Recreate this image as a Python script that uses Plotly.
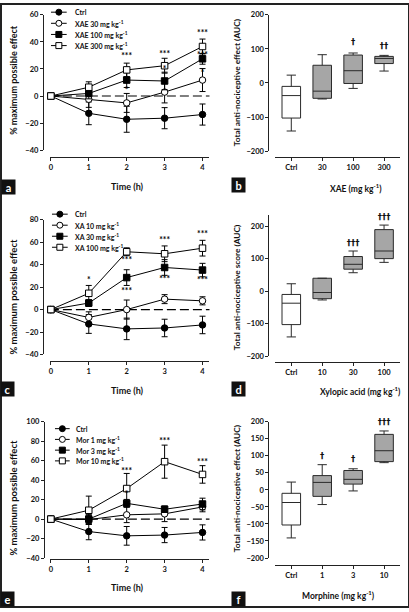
import plotly.graph_objects as go

W, H = 409, 612

# ---------------- data ----------------
time = [0, 1, 2, 3, 4]

ctrl_mean = [0, -12.8, -17.2, -16.4, -13.7]
ctrl_err = [0, 8.4, 9.6, 7.8, 7.8]

xae30_mean = [0, -2.4, -5.1, 2.9, 11.8]
xae30_err = [0, 6, 7, 8, 8.5]
xae100_mean = [0, 1.9, 11.8, 11.1, 27.5]
xae100_err = [0, 4, 5.5, 6.5, 4]
xae300_mean = [0, 6.5, 19.3, 22.4, 36.6]
xae300_err = [0, 4, 5, 5.5, 5.5]

xa10_mean = [0, -7.0, 0.0, 9.3, 7.8]
xa10_err = [0, 5, 8.5, 4, 3.6]
xa30_mean = [0, 5.8, 28.5, 37.5, 35.2]
xa30_err = [0, 3, 7, 7, 6]
xa100_mean = [0, 14.5, 51.5, 49.7, 54.7]
xa100_err = [0, 7, 3.5, 7, 7]

mor1_mean = [0, -0.5, 4.4, 5.4, 12.5]
mor1_err = [0, 5, 8, 8, 5]
mor3_mean = [0, 0.0, 16.2, 10.1, 15.5]
mor3_err = [0, 4, 4, 3, 6]
mor10_mean = [0, 9.1, 31.4, 59.0, 45.9]
mor10_err = [0, 14.5, 15.5, 17, 9]

names_a = ["Ctrl", "XAE 30 mg kg<sup>-1</sup>", "XAE 100 mg kg<sup>-1</sup>", "XAE 300 mg kg<sup>-1</sup>"]
names_c = ["Ctrl", "XA 10 mg kg<sup>-1</sup>", "XA 30 mg kg<sup>-1</sup>", "XA 100 mg kg<sup>-1</sup>"]
names_e = ["Ctrl", "Mor 1 mg kg<sup>-1</sup>", "Mor 3 mg kg<sup>-1</sup>", "Mor 10 mg kg<sup>-1</sup>"]

stars_a_x = [2, 2, 3, 3, 4, 4, 4]
stars_a_y = [28.9, 3.6, 30.6, 19.3, 45.8, 30.0, 16.1]
stars_a_t = ["***", "*", "***", "*", "***", "***", "*"]

stars_c_x = [1, 2, 2, 3, 3, 4, 4]
stars_c_y = [25.3, 43.6, 16.0, 61.0, 26.2, 66.3, 25.3]
stars_c_t = ["*", "***", "***", "***", "***", "***", "***"]

stars_e_x = [2, 2, 3, 4]
stars_e_y = [48.2, 24.6, 79.3, 57.3]
stars_e_t = ["***", "*", "***", "***"]

cats_b = ["Ctrl", "30", "100", "300"]
low_b = [-141, -47, -16, 35]
q1_b = [-103, -45, -1.5, 57]
med_b = [-37, -24, 36, 72]
q3_b = [-10, 52, 82, 78]
high_b = [23, 83, 88, 81]
dag_b_x = [2, 3]
dag_b_y = [117, 105.5]
dag_b_t = ["†", "††"]

cats_d = ["Ctrl", "10", "30", "100"]
low_d = [-141, -27, 57, 89]
q1_d = [-103, -23, 68, 100.5]
med_d = [-37, -4, 83, 124]
q3_d = [-10, 40, 107, 190]
high_d = [23, 40, 124, 204]
dag_d_x = [2, 3]
dag_d_y = [145, 226]
dag_d_t = ["†††", "†††"]

cats_f = ["Ctrl", "1", "3", "10"]
low_f = [-141, -43, -3, 80]
q1_f = [-103, -19, 17, 83]
med_f = [-37, 22, 31, 115]
q3_f = [-10, 42, 57, 163]
high_f = [23, 74, 62, 173]
dag_f_x = [1, 2, 3]
dag_f_y = [98, 88, 197]
dag_f_t = ["†", "†", "†††"]

# ---------------- style ----------------
FONT = "Lato"
AX = "#222222"
GREY = "#a6a6a6"
symbols = ["circle", "circle", "square", "square"]
fills = ["black", "white", "black", "white"]


def px(x):
    return x / W


def py(y):
    return 1 - y / H


fig = go.Figure()
layout = {}
TICKFONT = dict(family=FONT, size=7.5, color="#111", weight="bold")


def line_axes(n, xline_y, yline_x, ytop, ybot, yrange, ydtick):
    xs = "xaxis" if n == 1 else f"xaxis{n}"
    ys = "yaxis" if n == 1 else f"yaxis{n}"
    x0px, x1px = 49, 209
    ppu = (202 - 50) / 4.0
    layout[xs] = dict(domain=[px(x0px), px(x1px)], range=[-(50 - x0px) / ppu, 4 + (x1px - 202) / ppu],
                      anchor="free", position=py(xline_y), showline=True, linecolor=AX, linewidth=1,
                      ticks="outside", ticklen=3, tickcolor=AX, tickvals=time, showgrid=False,
                      zeroline=False, tickfont=TICKFONT)
    layout[ys] = dict(domain=[py(ybot), py(ytop)], range=yrange, anchor="free", position=px(yline_x),
                      showline=True, linecolor=AX, linewidth=1, ticks="outside", ticklen=3, tickcolor=AX,
                      dtick=ydtick, tick0=0, showgrid=False, zeroline=False, tickfont=TICKFONT)


def box_axes(n, xline_y, ytop, ybot, yrange, cats, ydtick):
    xs = f"xaxis{n}"
    ys = f"yaxis{n}"
    ppu = 31.0
    layout[xs] = dict(domain=[px(275), px(400)], range=[-(291 - 275) / ppu, 3 + (400 - 384) / ppu],
                      anchor="free", position=py(xline_y), showline=True, linecolor=AX, linewidth=1,
                      ticks="outside", ticklen=3, tickcolor=AX, tickvals=list(range(len(cats))),
                      ticktext=cats, showgrid=False, zeroline=False, tickfont=TICKFONT)
    layout[ys] = dict(domain=[py(ybot), py(ytop)], range=yrange, anchor="free", position=px(268),
                      showline=True, linecolor=AX, linewidth=1, ticks="outside", ticklen=3, tickcolor=AX,
                      tickvals=list(range(-200, 201, ydtick)), showgrid=False, zeroline=False,
                      tickfont=TICKFONT)


line_axes(1, 155, 42, 11, 148.3, [-40, 60], 20)
line_axes(3, 362.7, 42, 219, 355.7, [-40, 80], 20)
line_axes(5, 563.5, 43, 424, 562.3, [-40, 100], 20)
box_axes(2, 155, 11, 149.3, [-200, 200], cats_b, 100)
# panel d axis runs a little above 200 (200 at y=225.7, -200 at y=357.3)
d_ppu = (357.3 - 225.7) / 400.0
d_top_px = 214.0
box_axes(4, 363.3, d_top_px, 357.3, [-200, 200 + (225.7 - d_top_px) / d_ppu], cats_d, 100)
box_axes(6, 569.3, 424, 562.3, [-200, 200], cats_f, 50)


def add_lines(n, series, sx, sy, st):
    xa = "x" if n == 1 else f"x{n}"
    ya = "y" if n == 1 else f"y{n}"
    fig.add_shape(type="line", xref=f"{xa} domain", yref=ya, x0=0, x1=1, y0=0, y1=0,
                  line=dict(color="black", width=1.2, dash="9px,4px"), layer="below")
    for i, (mean, err) in enumerate(series):
        fig.add_trace(go.Scatter(
            x=time, y=mean, mode="lines+markers", xaxis=xa, yaxis=ya,
            line=dict(color="black", width=1),
            marker=dict(symbol=symbols[i], size=6.5, color=fills[i], line=dict(color="black", width=1)),
            error_y=dict(type="data", array=err, visible=True, color="black", thickness=1, width=3),
            showlegend=False, cliponaxis=False, hoverinfo="skip"))
    fig.add_trace(go.Scatter(x=sx, y=sy, text=st, mode="text", xaxis=xa, yaxis=ya,
                             textfont=dict(family=FONT, size=8.5, color="black", weight="bold"),
                             showlegend=False, cliponaxis=False, hoverinfo="skip"))


add_lines(1, [(ctrl_mean, ctrl_err), (xae30_mean, xae30_err), (xae100_mean, xae100_err),
              (xae300_mean, xae300_err)], stars_a_x, stars_a_y, stars_a_t)
add_lines(3, [(ctrl_mean, ctrl_err), (xa10_mean, xa10_err), (xa30_mean, xa30_err),
              (xa100_mean, xa100_err)], stars_c_x, stars_c_y, stars_c_t)
add_lines(5, [(ctrl_mean, ctrl_err), (mor1_mean, mor1_err), (mor3_mean, mor3_err),
              (mor10_mean, mor10_err)], stars_e_x, stars_e_y, stars_e_t)


def add_boxes(n, low, q1, med, q3, high, dx, dy, dt):
    xa, ya = f"x{n}", f"y{n}"
    idx = list(range(len(low)))
    for sel, fc in ((idx[:1], "white"), (idx[1:], GREY)):
        fig.add_trace(go.Box(
            x=sel, q1=[q1[i] for i in sel], median=[med[i] for i in sel], q3=[q3[i] for i in sel],
            lowerfence=[low[i] for i in sel], upperfence=[high[i] for i in sel],
            fillcolor=fc, line=dict(color="#2a2a2a", width=1), width=0.6, whiskerwidth=0.5,
            boxpoints=False, xaxis=xa, yaxis=ya, showlegend=False, hoverinfo="skip"))
    fig.add_trace(go.Scatter(x=dx, y=dy, text=dt, mode="text", xaxis=xa, yaxis=ya,
                             textfont=dict(family="DejaVu Sans", size=8.5, color="#111111", weight="bold"),
                             showlegend=False, cliponaxis=False, hoverinfo="skip"))


add_boxes(2, low_b, q1_b, med_b, q3_b, high_b, dag_b_x, dag_b_y, dag_b_t)
add_boxes(4, low_d, q1_d, med_d, q3_d, high_d, dag_d_x, dag_d_y, dag_d_t)
add_boxes(6, low_f, q1_f, med_f, q3_f, high_f, dag_f_x, dag_f_y, dag_f_t)

annotations = []


# ---------------- legends (key samples on small helper axes) ----------------
def add_legend(n, names, kx0, kx1, row0, step, textx):
    xs, ys = f"xaxis{n}", f"yaxis{n}"
    xa, ya = f"x{n}", f"y{n}"
    k = len(names)
    top = row0 - step / 2
    bot = row0 + step * (k - 0.5)
    layout[xs] = dict(domain=[px(kx0), px(kx1)], range=[0, 1], visible=False, fixedrange=True)
    layout[ys] = dict(domain=[py(bot), py(top)], range=[k - 0.5, -0.5], visible=False, fixedrange=True)
    for i, nm in enumerate(names):
        fig.add_trace(go.Scatter(x=[0, 1], y=[i, i], mode="lines", xaxis=xa, yaxis=ya,
                                 line=dict(color="black", width=1), showlegend=False,
                                 cliponaxis=False, hoverinfo="skip"))
        fig.add_trace(go.Scatter(x=[0.5], y=[i], mode="markers", xaxis=xa, yaxis=ya,
                                 marker=dict(symbol=symbols[i], size=6, color=fills[i],
                                             line=dict(color="black", width=1)),
                                 showlegend=False, cliponaxis=False, hoverinfo="skip"))
        annotations.append(dict(text=nm, xref="paper", yref="paper", x=px(textx), y=py(row0 + i * step),
                                xanchor="left", yanchor="middle", showarrow=False,
                                font=dict(family=FONT, size=7, color="#111", weight="bold")))


add_legend(7, names_a, 50, 66, 8.3, 11.3, 72)
add_legend(8, names_c, 51, 67, 213.3, 11.2, 72)
add_legend(9, names_e, 54, 69, 431.0, 10.9, 73)


# ---------------- titles ----------------
def ann(text, x, y, size, angle=0):
    annotations.append(dict(text=text, xref="paper", yref="paper", x=px(x), y=py(y), xanchor="center",
                            yanchor="middle", showarrow=False, textangle=angle,
                            font=dict(family=FONT, size=size, color="#111", weight="bold")))


ann("Time (h)", 127, 185, 9)
ann("Time (h)", 127, 392.7, 9)
ann("Time (h)", 127, 592.7, 9)
ann("XAE (mg kg<sup>-1</sup>)", 356, 186.7, 8.5)
ann("Xylopic acid (mg kg<sup>-1</sup>)", 360, 392.7, 8.5)
ann("Morphine (mg kg<sup>-1</sup>)", 338, 600, 8.5)
ann("% maximum possible effect", 13, 77, 9, -90)
ann("% maximum possible effect", 13, 297, 9.5, -90)
ann("% maximum possible effect", 13, 501, 9.5, -90)
ann("Total anti-nociceptive effect (AUC)", 236, 80, 8.3, -90)
ann("Total anti-nociceptive score (AUC)", 236, 288, 8.3, -90)
ann("Total anti-nociceptive effect (AUC)", 236, 492, 8.3, -90)

for lab, x, y in (("a", 8, 186), ("b", 238, 184), ("c", 7, 391), ("d", 238, 391), ("e", 7, 604), ("f", 238, 604)):
    annotations.append(dict(text=lab, xref="paper", yref="paper", x=px(x), y=py(y), xanchor="center",
                            yanchor="middle", showarrow=False, bgcolor="#111111", width=11, height=12,
                            borderpad=1, font=dict(family=FONT, size=11, color="white", weight="bold")))

fig.add_shape(type="rect", xref="paper", yref="paper", x0=0, y0=0, x1=1, y1=1,
              line=dict(color="#222222", width=2))

fig.update_layout(width=W, height=H, margin=dict(l=0, r=0, t=0, b=0), autosize=False,
                  paper_bgcolor="white", plot_bgcolor="rgba(0,0,0,0)", boxmode="overlay",
                  font=dict(family=FONT, size=7, color="#111"), annotations=annotations, **layout)

fig.write_html("out.html", config={"displayModeBar": False},
               post_script="document.body.style.margin='0';")
